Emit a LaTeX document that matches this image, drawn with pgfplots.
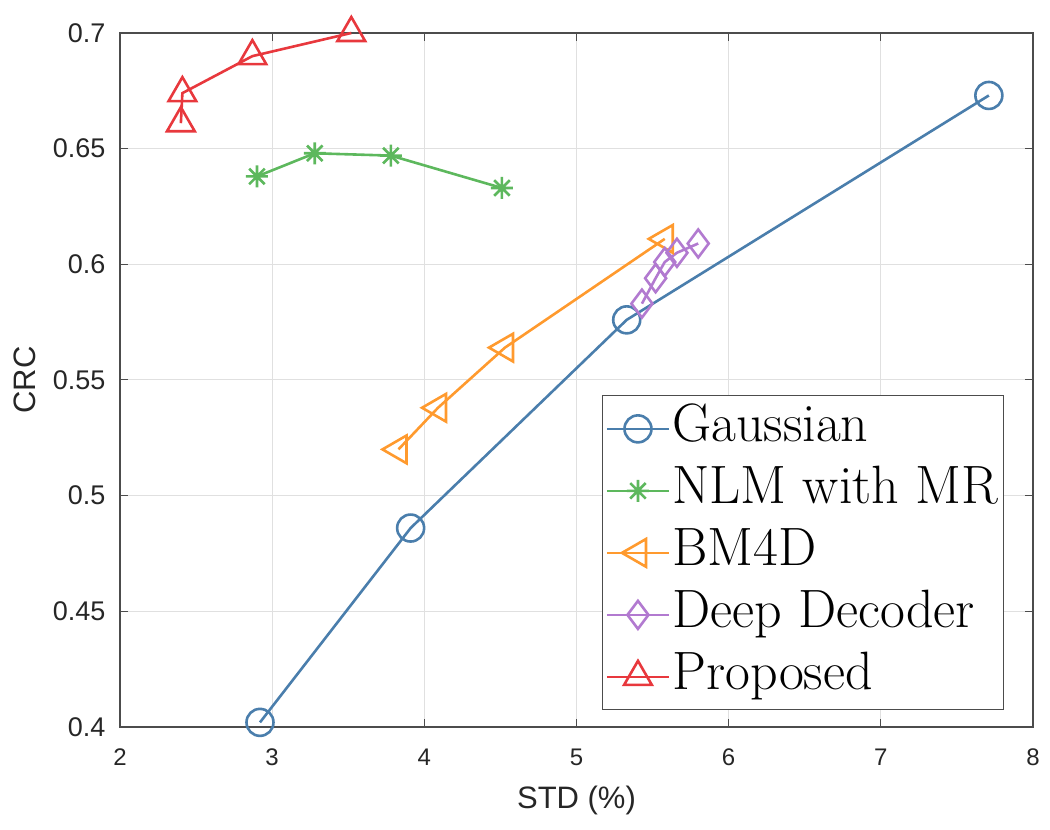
\documentclass[border=0pt]{standalone}
\usepackage{fontspec}
\usepackage{pgfplots}
\pgfplotsset{compat=1.18}
\newfontfamily\arial{Liberation Sans}

\definecolor{cgau}{HTML}{4A7EAC}
\definecolor{cnlm}{HTML}{5DB85D}
\definecolor{cbm}{HTML}{FF9A2E}
\definecolor{cdd}{HTML}{B27AD0}
\definecolor{cprop}{HTML}{E8383D}

% matlab style '*' (plus and cross)
\pgfdeclareplotmark{mstar}{%
  \pgfpathmoveto{\pgfqpoint{-\pgfplotmarksize}{0pt}}\pgfpathlineto{\pgfqpoint{\pgfplotmarksize}{0pt}}%
  \pgfpathmoveto{\pgfqpoint{0pt}{-\pgfplotmarksize}}\pgfpathlineto{\pgfqpoint{0pt}{\pgfplotmarksize}}%
  \pgfpathmoveto{\pgfqpoint{-.707\pgfplotmarksize}{-.707\pgfplotmarksize}}\pgfpathlineto{\pgfqpoint{.707\pgfplotmarksize}{.707\pgfplotmarksize}}%
  \pgfpathmoveto{\pgfqpoint{-.707\pgfplotmarksize}{.707\pgfplotmarksize}}\pgfpathlineto{\pgfqpoint{.707\pgfplotmarksize}{-.707\pgfplotmarksize}}%
  \pgfusepathqstroke}

\tikzset{lw/.style={line width=2.6pt}}

\begin{document}
\begin{tikzpicture}
\useasboundingbox (0,0) rectangle (1050pt,830pt);
\begin{axis}[
    at={(120pt,103pt)}, anchor=south west,
    scale only axis, width=913pt, height=694pt,
    xmin=2, xmax=8, ymin=0.4, ymax=0.7,
    xtick={2,3,...,8},
    ytick={0.4,0.45,0.5,0.55,0.6,0.65,0.7},
    yticklabel style={/pgf/number format/fixed, /pgf/number format/precision=2},
    /pgf/number format/assume math mode=true,
    ticklabel style={text=black!85},
    xticklabel style={font=\arial\fontsize{24}{26}\selectfont, yshift=-18pt},
    yticklabel style={font=\arial\fontsize{27}{30}\selectfont, xshift=-11pt},
    xlabel={STD (\%)}, ylabel={CRC},
    every axis x label/.style={at={(rel axis cs:0.5,0)}, anchor=center, yshift=-73pt,
        font=\arial\fontsize{31}{34}\selectfont, text=black!85},
    every axis y label/.style={at={(rel axis cs:0,0.5)}, anchor=center, rotate=90, yshift=95pt,
        font=\arial\fontsize{31}{34}\selectfont, text=black!85},
    tick align=inside, major tick length=8pt,
    tick style={black!70, line width=1pt},
    axis line style={black!70, line width=1.2pt},
    grid=major, major grid style={black!12, line width=1pt},
    clip=false,
    legend style={at={(0.528,0.478)}, anchor=north west,
        font=\fontsize{54}{60}\selectfont, draw=black!70, line width=1.2pt,
        inner sep=3pt, row sep=2pt, cells={anchor=west},
        nodes={text height=40pt, text depth=14pt, inner ysep=3pt}},
    legend image post style={line width=2.6pt},
    legend image code/.code={\draw[mark repeat=2, mark phase=2, #1, line width=2.6pt]
        plot coordinates {(0pt,0pt) (31pt,0pt) (62pt,0pt)};},
]
\addplot[lw, cgau, mark=o, mark size=13.5pt] coordinates {
    (2.92,0.402) (3.91,0.486) (5.33,0.576) (7.71,0.673)
};
\addlegendentry{Gaussian}
\addplot[lw, cnlm, mark=mstar, mark size=11pt] coordinates {
    (2.90,0.638) (3.28,0.648) (3.78,0.647) (4.51,0.633)
};
\addlegendentry{NLM with MR}
\addplot[lw, cbm, mark=triangle, mark size=16pt, mark options={rotate=90}] coordinates {
    (3.83,0.520) (4.09,0.538) (4.53,0.564) (5.58,0.611)
};
\addlegendentry{BM4D}
\addplot[lw, cdd, mark=diamond, mark size=14pt] coordinates {
    (5.43,0.583) (5.52,0.594) (5.58,0.601) (5.66,0.605) (5.80,0.609)
};
\addlegendentry{Deep Decoder}
\addplot[lw, cprop, mark=triangle, mark size=16pt] coordinates {
    (2.40,0.661) (2.41,0.674) (2.87,0.690) (3.52,0.700)
};
\addlegendentry{Proposed}
\end{axis}
\end{tikzpicture}
\end{document}
